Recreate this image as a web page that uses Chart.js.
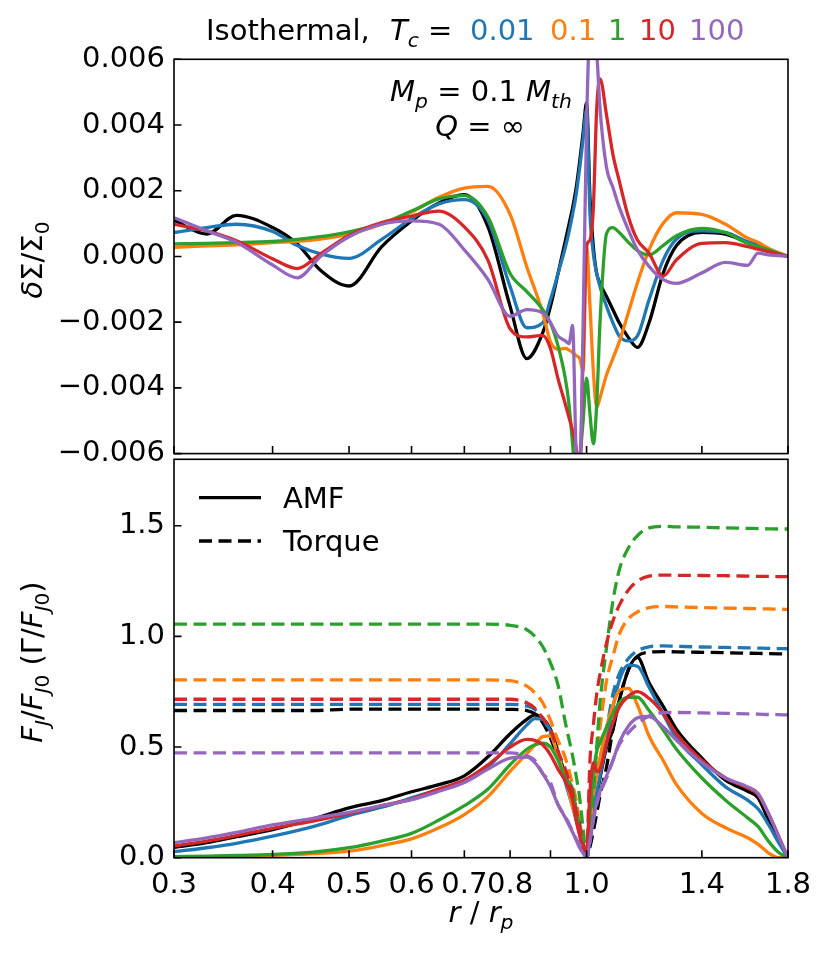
<!DOCTYPE html>
<html>
<head>
<meta charset="utf-8">
<title>Isothermal, Tc</title>
<script src="https://cdn.jsdelivr.net/npm/chart.js@4.4.1/dist/chart.umd.min.js"></script>
<style>
  html, body { margin: 0; padding: 0; background: #ffffff; }
  #fig { position: relative; width: 830px; height: 955px; overflow: hidden; }
  #fig canvas { position: absolute; left: 0; }
</style>
</head>
<body>
<div id="fig">
  <canvas id="chartTop" width="830" height="480" style="top:0px"></canvas>
  <canvas id="chartBottom" width="830" height="525" style="top:430px"></canvas>
</div>
<script>
// colours, one per T_c (black = reference run)
var cBlack = '#000000', cBlue = '#1f77b4', cOrange = '#ff7f0e', cGreen = '#2ca02c', cRed = '#d62728', cPurple = '#9467bd';

// r / r_p sample points
var rTop = [0.30, 0.33, 0.36, 0.40, 0.43, 0.46, 0.50, 0.55, 0.60, 0.65, 0.70, 0.75, 0.80, 0.84, 0.88, 0.90, 0.92, 0.94, 0.95, 0.96, 0.97, 0.98, 0.99,
            1.00, 1.01, 1.02, 1.03, 1.04, 1.06, 1.08, 1.10, 1.13, 1.16, 1.20, 1.25, 1.30, 1.40, 1.50, 1.60, 1.65, 1.70, 1.80];
var rBottom = [0.30, 0.33, 0.36, 0.40, 0.45, 0.50, 0.55, 0.60, 0.65, 0.70, 0.75, 0.80, 0.84, 0.86, 0.88, 0.90, 0.92, 0.94, 0.96, 0.97, 0.98, 0.99,
               1.00, 1.01, 1.02, 1.03, 1.04, 1.06, 1.08, 1.10, 1.13, 1.16, 1.20, 1.25, 1.30, 1.40, 1.50, 1.60, 1.65, 1.70, 1.75, 1.80];

// top panel: dSigma / Sigma0
var sigmaBlack = [0.00110, 0.00068, 0.00125, 0.00088, 0.00038, -0.00042, -0.00090, 0.00030, 0.00108, 0.00163, 0.00188, 0.00090, -0.00152, -0.00311, -0.00232, -0.00152, -0.00052, 0.00048, 0.00098, 0.00148, 0.00208, 0.00288, 0.00378,
                  0.00468, 0.00178, 0.00028, -0.00052, -0.00082, -0.00122, -0.00162, -0.00202, -0.00247, -0.00277, -0.00202, -0.00052, 0.00033, 0.00073, 0.00068, 0.00043, 0.00033, 0.00018, 0.00000];
var sigmaBlue = [0.00073, 0.00088, 0.00098, 0.00076, 0.00033, 0.00008, -0.00006, 0.00052, 0.00115, 0.00160, 0.00173, 0.00110, -0.00092, -0.00217, -0.00202, -0.00132, -0.00052, 0.00028, 0.00075, 0.00128, 0.00188, 0.00268, 0.00358,
                 0.00448, 0.00128, 0.00008, -0.00052, -0.00092, -0.00152, -0.00202, -0.00242, -0.00257, -0.00242, -0.00132, -0.00012, 0.00053, 0.00078, 0.00073, 0.00045, 0.00035, 0.00020, 0.00000];
var sigmaOrange = [0.00028, 0.00032, 0.00035, 0.00042, 0.00046, 0.00053, 0.00068, 0.00098, 0.00135, 0.00180, 0.00208, 0.00213, 0.00128, -0.00032, -0.00172, -0.00260, -0.00282, -0.00280, -0.00285, -0.00292, -0.00302, -0.00310, -0.00350,
                   0.00030, -0.00150, -0.00350, -0.00460, -0.00430, -0.00360, -0.00310, -0.00260, -0.00170, -0.00080, 0.00020, 0.00100, 0.00133, 0.00128, 0.00098, 0.00056, 0.00043, 0.00025, 0.00000];
var sigmaGreen = [0.00038, 0.00040, 0.00042, 0.00046, 0.00052, 0.00060, 0.00075, 0.00100, 0.00138, 0.00175, 0.00185, 0.00120, -0.00052, -0.00107, -0.00162, -0.00202, -0.00272, -0.00372, -0.00450, -0.00570, -0.00680, -0.00620, -0.00500,
                  -0.00370, -0.00480, -0.00570, -0.00450, -0.00200, 0.00070, 0.00088, 0.00073, 0.00043, 0.00018, 0.00005, 0.00033, 0.00063, 0.00085, 0.00072, 0.00040, 0.00030, 0.00020, 0.00000];
var sigmaRed = [0.00098, 0.00078, 0.00048, -0.00007, -0.00037, 0.00008, 0.00064, 0.00103, 0.00123, 0.00138, 0.00090, -0.00012, -0.00220, -0.00245, -0.00240, -0.00280, -0.00372, -0.00450, -0.00490, -0.00530, -0.00580, -0.00650, -0.00300,
                0.00030, 0.00050, 0.00150, 0.00450, 0.00540, 0.00430, 0.00310, 0.00230, 0.00120, 0.00050, 0.00010, -0.00060, -0.00010, 0.00040, 0.00042, 0.00030, 0.00022, 0.00015, 0.00000];
var sigmaPurple = [0.00118, 0.00078, 0.00043, -0.00026, -0.00065, 0.00000, 0.00060, 0.00098, 0.00108, 0.00098, 0.00020, -0.00070, -0.00182, -0.00162, -0.00172, -0.00202, -0.00242, -0.00257, -0.00265, -0.00210, -0.00600, -0.00680, -0.00200,
                   0.00400, 0.00680, 0.00680, 0.00620, 0.00450, 0.00270, 0.00210, 0.00150, 0.00080, 0.00020, -0.00030, -0.00070, -0.00082, -0.00050, -0.00018, -0.00027, 0.00010, 0.00005, 0.00000];

// bottom panel: angular momentum flux F_J / F_J0 (solid)
var amfBlack = [0.047, 0.068, 0.095, 0.127, 0.175, 0.225, 0.258, 0.298, 0.330, 0.370, 0.456, 0.560, 0.625, 0.645, 0.630, 0.580, 0.480, 0.370, 0.270, 0.220, 0.150, 0.070,
                0.000, 0.100, 0.200, 0.280, 0.360, 0.500, 0.580, 0.710, 0.850, 0.905, 0.790, 0.685, 0.580, 0.450, 0.350, 0.300, 0.270, 0.170, 0.080, 0.000];
var amfBlue = [0.027, 0.045, 0.065, 0.097, 0.140, 0.190, 0.228, 0.270, 0.310, 0.350, 0.410, 0.515, 0.600, 0.628, 0.625, 0.570, 0.460, 0.340, 0.230, 0.170, 0.110, 0.050,
               0.000, 0.100, 0.200, 0.290, 0.370, 0.520, 0.680, 0.800, 0.870, 0.865, 0.770, 0.650, 0.540, 0.420, 0.320, 0.260, 0.220, 0.150, 0.070, 0.000];
var amfOrange = [0.000, 0.002, 0.005, 0.010, 0.018, 0.030, 0.055, 0.085, 0.135, 0.195, 0.276, 0.390, 0.470, 0.510, 0.547, 0.550, 0.460, 0.360, 0.230, 0.180, 0.130, 0.060,
                 0.000, 0.150, 0.290, 0.370, 0.450, 0.590, 0.690, 0.755, 0.765, 0.690, 0.550, 0.440, 0.330, 0.200, 0.135, 0.090, 0.060, 0.022, 0.000, 0.000];
var amfGreen = [0.005, 0.007, 0.010, 0.015, 0.025, 0.045, 0.075, 0.110, 0.170, 0.235, 0.310, 0.420, 0.490, 0.510, 0.517, 0.500, 0.440, 0.360, 0.310, 0.220, 0.130, 0.050,
                0.000, 0.200, 0.380, 0.480, 0.520, 0.590, 0.650, 0.700, 0.725, 0.725, 0.665, 0.578, 0.490, 0.360, 0.260, 0.180, 0.140, 0.075, 0.025, 0.000];
var amfRed = [0.053, 0.075, 0.100, 0.133, 0.165, 0.200, 0.235, 0.265, 0.310, 0.350, 0.420, 0.500, 0.535, 0.530, 0.510, 0.465, 0.400, 0.345, 0.260, 0.170, 0.100, 0.040,
              0.020, 0.300, 0.430, 0.390, 0.400, 0.517, 0.610, 0.680, 0.730, 0.750, 0.720, 0.652, 0.560, 0.440, 0.360, 0.315, 0.285, 0.200, 0.100, 0.000];
var amfPurple = [0.068, 0.090, 0.115, 0.148, 0.178, 0.205, 0.235, 0.262, 0.300, 0.340, 0.400, 0.450, 0.455, 0.430, 0.380, 0.320, 0.240, 0.180, 0.115, 0.080, 0.045, 0.020,
                 0.000, 0.080, 0.170, 0.250, 0.300, 0.370, 0.440, 0.520, 0.595, 0.632, 0.638, 0.592, 0.530, 0.430, 0.360, 0.320, 0.290, 0.200, 0.100, 0.000];

// bottom panel: torque Gamma / F_J0 (dashed)
var torqueBlack = [0.665, 0.665, 0.665, 0.665, 0.665, 0.671, 0.671, 0.671, 0.671, 0.671, 0.671, 0.670, 0.665, 0.650, 0.610, 0.540, 0.450, 0.360, 0.250, 0.190, 0.110, 0.040,
                   0.000, 0.050, 0.120, 0.200, 0.280, 0.410, 0.580, 0.710, 0.850, 0.910, 0.928, 0.931, 0.930, 0.928, 0.926, 0.924, 0.923, 0.922, 0.921, 0.920];
var torqueBlue = [0.693, 0.693, 0.693, 0.693, 0.693, 0.693, 0.693, 0.693, 0.693, 0.693, 0.693, 0.693, 0.685, 0.670, 0.630, 0.560, 0.470, 0.380, 0.270, 0.200, 0.120, 0.050,
                  0.000, 0.150, 0.290, 0.380, 0.450, 0.580, 0.740, 0.830, 0.900, 0.935, 0.953, 0.957, 0.955, 0.952, 0.950, 0.948, 0.947, 0.946, 0.945, 0.944];
var torqueOrange = [0.803, 0.803, 0.803, 0.803, 0.803, 0.803, 0.803, 0.803, 0.803, 0.803, 0.803, 0.800, 0.775, 0.745, 0.700, 0.620, 0.530, 0.450, 0.330, 0.260, 0.160, 0.070,
                    0.010, 0.200, 0.360, 0.480, 0.590, 0.800, 0.910, 1.010, 1.080, 1.110, 1.130, 1.135, 1.133, 1.130, 1.128, 1.126, 1.125, 1.124, 1.123, 1.122];
var torqueGreen = [1.055, 1.055, 1.055, 1.055, 1.055, 1.055, 1.055, 1.055, 1.055, 1.055, 1.055, 1.050, 1.030, 1.000, 0.953, 0.880, 0.780, 0.610, 0.460, 0.370, 0.270, 0.130,
                   0.000, 0.120, 0.290, 0.500, 0.700, 0.950, 1.160, 1.300, 1.400, 1.455, 1.490, 1.497, 1.495, 1.493, 1.490, 1.488, 1.487, 1.486, 1.485, 1.485];
var torqueRed = [0.716, 0.716, 0.716, 0.716, 0.716, 0.716, 0.716, 0.716, 0.716, 0.716, 0.716, 0.716, 0.700, 0.675, 0.630, 0.580, 0.480, 0.400, 0.290, 0.210, 0.140, 0.060,
                 0.030, 0.440, 0.600, 0.740, 0.830, 0.970, 1.070, 1.140, 1.210, 1.250, 1.272, 1.277, 1.276, 1.275, 1.274, 1.272, 1.271, 1.271, 1.270, 1.270];
var torquePurple = [0.474, 0.474, 0.474, 0.474, 0.474, 0.474, 0.474, 0.474, 0.474, 0.474, 0.474, 0.474, 0.460, 0.440, 0.380, 0.340, 0.240, 0.185, 0.120, 0.085, 0.060, 0.030,
                    0.000, 0.070, 0.170, 0.240, 0.290, 0.360, 0.440, 0.510, 0.565, 0.605, 0.640, 0.655, 0.656, 0.654, 0.652, 0.650, 0.649, 0.647, 0.646, 0.645];

// ticks
var xTickLabels = [0.3, 0.4, 0.5, 0.6, 0.7, 0.8, 1.0, 1.4, 1.8];
var xTickMarks = [0.3, 0.4, 0.5, 0.6, 0.7, 0.8, 0.9, 1.0, 1.4, 1.8];
var yTopTicks = [-0.006, -0.004, -0.002, 0, 0.002, 0.004, 0.006];
var yBottomTicks = [0, 0.5, 1.0, 1.5];

// title pieces: T_c values and their colours
var tcLabels = ['0.01', '0.1', '1', '10', '100'];
var tcColors = [cBlue, cOrange, cGreen, cRed, cPurple];
var tcLeft = [470, 550, 608, 639, 689];

var FONT = '"DejaVu Sans", "Liberation Sans", sans-serif';
var FS = 29;
var LW = 3.3;
var DASH = [13, 6.5];
var OFF = 430; // top of the bottom canvas on the page

function pts(xs, ys) {
  return xs.map(function (x, i) { return { x: x, y: ys[i] }; });
}

function lineSet(xs, ys, color, dashed, order) {
  return {
    data: pts(xs, ys),
    borderColor: color,
    backgroundColor: color,
    borderWidth: LW,
    borderDash: dashed ? DASH : [],
    fill: false,
    pointRadius: 0,
    cubicInterpolationMode: 'monotone',
    clip: 0,
    order: order
  };
}

// small mathtext-like writer: runs of {t, it, sub, c}
function runFont(r, size) {
  var s = r.sub ? size * 0.7 : size;
  return (r.it ? 'italic ' : '') + s + 'px ' + FONT;
}
function drawRuns(ctx, runs, x, y, size, align) {
  var w = 0;
  runs.forEach(function (r) { ctx.font = runFont(r, size); w += ctx.measureText(r.t).width; });
  var cx = align === 'center' ? x - w / 2 : (align === 'right' ? x - w : x);
  ctx.textAlign = 'left';
  ctx.textBaseline = 'alphabetic';
  runs.forEach(function (r) {
    ctx.font = runFont(r, size);
    ctx.fillStyle = r.c || '#000';
    ctx.fillText(r.t, cx, y + (r.sub ? size * 0.24 : 0));
    cx += ctx.measureText(r.t).width;
  });
}

// frame + inward ticks, like the matplotlib axes
var framePlugin = {
  id: 'frame',
  afterDraw: function (chart) {
    var ctx = chart.ctx, a = chart.chartArea;
    var xs = chart.scales.x, ys = chart.scales.y;
    ctx.save();
    ctx.strokeStyle = '#000';
    ctx.lineWidth = 1.6;
    ctx.setLineDash([]);
    ctx.strokeRect(a.left, a.top, a.right - a.left, a.bottom - a.top);
    ctx.beginPath();
    xTickMarks.forEach(function (v) {
      var px = xs.getPixelForValue(v);
      ctx.moveTo(px, a.bottom);
      ctx.lineTo(px, a.bottom - 7.5);
    });
    ys.ticks.forEach(function (t) {
      var py = ys.getPixelForValue(t.value);
      ctx.moveTo(a.left, py);
      ctx.lineTo(a.left + 7.5, py);
    });
    ctx.stroke();
    ctx.restore();
  }
};

var topTextPlugin = {
  id: 'topText',
  afterDraw: function (chart) {
    var ctx = chart.ctx;
    ctx.save();
    // title
    drawRuns(ctx, [{ t: 'Isothermal,' }], 206, 40, FS, 'left');
    drawRuns(ctx, [{ t: 'T', it: 1 }, { t: 'c', it: 1, sub: 1 }, { t: ' =' }], 390, 40, FS, 'left');
    tcLabels.forEach(function (s, i) {
      drawRuns(ctx, [{ t: s, c: tcColors[i] }], tcLeft[i], 40, FS, 'left');
    });
    // annotation
    drawRuns(ctx, [{ t: 'M', it: 1 }, { t: 'p', it: 1, sub: 1 }, { t: ' = 0.1 ' }, { t: 'M', it: 1 }, { t: 'th', it: 1, sub: 1 }], 481, 101, FS, 'center');
    drawRuns(ctx, [{ t: 'Q', it: 1 }, { t: ' = \u221e' }], 480, 136, FS, 'center');
    // y label
    ctx.translate(42, 260);
    ctx.rotate(-Math.PI / 2);
    drawRuns(ctx, [{ t: '\u03b4', it: 1 }, { t: '\u03a3/\u03a3' }, { t: '0', sub: 1 }], 0, 0, FS, 'center');
    ctx.restore();
  }
};

var bottomTextPlugin = {
  id: 'bottomText',
  afterDraw: function (chart) {
    var ctx = chart.ctx;
    ctx.save();
    // legend
    ctx.strokeStyle = '#000';
    ctx.lineWidth = LW;
    ctx.setLineDash([]);
    ctx.beginPath(); ctx.moveTo(199, 497.7 - OFF); ctx.lineTo(261, 497.7 - OFF); ctx.stroke();
    ctx.setLineDash(DASH);
    ctx.beginPath(); ctx.moveTo(199, 541 - OFF); ctx.lineTo(261, 541 - OFF); ctx.stroke();
    ctx.setLineDash([]);
    drawRuns(ctx, [{ t: 'AMF' }], 283, 507.5 - OFF, FS, 'left');
    drawRuns(ctx, [{ t: 'Torque' }], 283, 551 - OFF, FS, 'left');
    // x label
    drawRuns(ctx, [{ t: 'r', it: 1 }, { t: ' / ' }, { t: 'r', it: 1 }, { t: 'p', it: 1, sub: 1 }], 481, 922 - OFF, FS, 'center');
    // y label
    ctx.translate(42, 662 - OFF);
    ctx.rotate(-Math.PI / 2);
    drawRuns(ctx, [
      { t: 'F', it: 1 }, { t: 'J', it: 1, sub: 1 }, { t: '/' }, { t: 'F', it: 1 }, { t: 'J', it: 1, sub: 1 }, { t: '0', sub: 1 },
      { t: ' (\u0393/' }, { t: 'F', it: 1 }, { t: 'J', it: 1, sub: 1 }, { t: '0', sub: 1 }, { t: ')' }
    ], 0, 0, FS, 'center');
    ctx.restore();
  }
};

function xAxis(showLabels, height) {
  return {
    type: 'logarithmic',
    min: 0.3,
    max: 1.8,
    afterBuildTicks: function (s) { s.ticks = xTickLabels.map(function (v) { return { value: v }; }); },
    afterFit: function (s) { s.height = height; },
    grid: { display: false, drawTicks: false },
    border: { display: false },
    ticks: {
      display: showLabels,
      autoSkip: false,
      maxRotation: 0,
      minRotation: 0,
      padding: 10,
      color: '#000',
      font: { family: FONT, size: FS },
      callback: function (v) { return Number(v).toFixed(1); }
    }
  };
}

function yAxis(min, max, tickList, fmt) {
  return {
    min: min,
    max: max,
    afterBuildTicks: function (s) { s.ticks = tickList.map(function (v) { return { value: v }; }); },
    afterFit: function (s) { s.width = 174; },
    grid: { display: false, drawTicks: false },
    border: { display: false },
    ticks: {
      padding: 9,
      color: '#000',
      font: { family: FONT, size: FS },
      callback: fmt
    }
  };
}

function fmtTop(v) {
  if (Math.abs(v) < 1e-12) return '0.000';
  return (v < 0 ? '\u2212' : '') + Math.abs(v).toFixed(3);
}
function fmtBottom(v) { return Number(v).toFixed(1); }

new Chart(document.getElementById('chartTop').getContext('2d'), {
  type: 'line',
  data: {
    datasets: [
      lineSet(rTop, sigmaBlack, cBlack, false, 6),
      lineSet(rTop, sigmaBlue, cBlue, false, 5),
      lineSet(rTop, sigmaOrange, cOrange, false, 4),
      lineSet(rTop, sigmaGreen, cGreen, false, 3),
      lineSet(rTop, sigmaRed, cRed, false, 2),
      lineSet(rTop, sigmaPurple, cPurple, false, 1)
    ]
  },
  options: {
    responsive: false,
    animation: false,
    layout: { padding: { left: 0, right: 42, top: 59.3, bottom: 0 } },
    plugins: { legend: { display: false }, tooltip: { enabled: false } },
    scales: {
      x: xAxis(false, 20.7),
      y: yAxis(-0.006, 0.006, yTopTicks, fmtTop)
    }
  },
  plugins: [framePlugin, topTextPlugin]
});

new Chart(document.getElementById('chartBottom').getContext('2d'), {
  type: 'line',
  data: {
    datasets: [
      lineSet(rBottom, amfBlack, cBlack, false, 12),
      lineSet(rBottom, torqueBlack, cBlack, true, 11),
      lineSet(rBottom, amfBlue, cBlue, false, 10),
      lineSet(rBottom, torqueBlue, cBlue, true, 9),
      lineSet(rBottom, amfOrange, cOrange, false, 8),
      lineSet(rBottom, torqueOrange, cOrange, true, 7),
      lineSet(rBottom, amfGreen, cGreen, false, 6),
      lineSet(rBottom, torqueGreen, cGreen, true, 5),
      lineSet(rBottom, amfRed, cRed, false, 4),
      lineSet(rBottom, torqueRed, cRed, true, 3),
      lineSet(rBottom, amfPurple, cPurple, false, 2),
      lineSet(rBottom, torquePurple, cPurple, true, 1)
    ]
  },
  options: {
    responsive: false,
    animation: false,
    layout: { padding: { left: 0, right: 42, top: 29.3, bottom: 0 } },
    plugins: { legend: { display: false }, tooltip: { enabled: false } },
    scales: {
      x: xAxis(true, 97.3),
      y: yAxis(0, 1.8, yBottomTicks, fmtBottom)
    }
  },
  plugins: [framePlugin, bottomTextPlugin]
});
</script>
</body>
</html>
